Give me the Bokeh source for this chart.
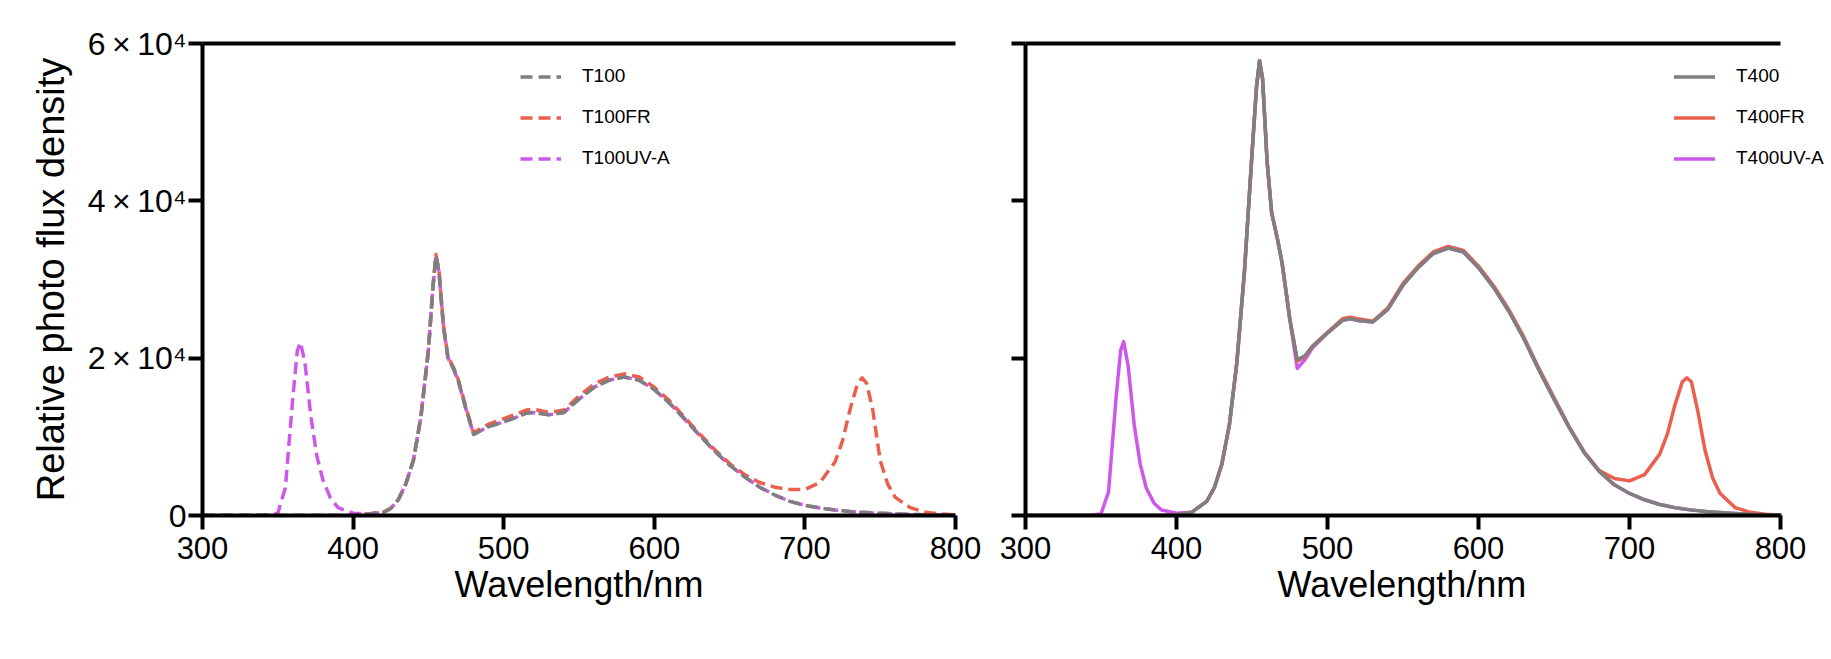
from bokeh.plotting import figure
from bokeh.models import (Range1d, FixedTicker, LinearAxis, Legend, LegendItem, Title,
                          CustomJSTickFormatter)
from bokeh.layouts import row
from bokeh.embed import file_html
from bokeh.resources import INLINE

# ---------------- data ----------------
wavelength = [300, 340, 350, 355, 360, 363, 365, 368, 372, 376,
              380, 385, 390, 400, 410, 420, 425, 430, 435, 440,
              445, 450, 453, 455, 457, 460, 463, 467, 470, 475,
              480, 485, 490, 500, 510, 515, 520, 530, 540, 550,
              560, 570, 580, 590, 600, 610, 620, 630, 640, 650,
              660, 670, 680, 690, 700, 710, 720, 725, 730, 735,
              738, 741, 745, 750, 755, 760, 770, 780, 790, 800]

t100 = [0, 0, 0, 0, 0, 0, 0, 0, 0, 0,
        0, 0, 0, 0, 200, 400, 900, 2000, 4000, 7000,
        12500, 21000, 29000, 33000, 31000, 24000, 20000, 18500, 17000, 13500,
        10300, 10800, 11300, 11900, 12600, 13000, 13100, 12800, 13100, 14800,
        16300, 17200, 17600, 17200, 16000, 14300, 12300, 10200, 8200, 6400,
        4900, 3600, 2600, 1800, 1300, 950, 700, 600, 500, 430,
        400, 370, 330, 280, 240, 200, 140, 90, 50, 20]

t100fr = [0, 0, 0, 0, 0, 0, 0, 0, 0, 0,
          0, 0, 0, 0, 200, 400, 900, 2000, 4000, 7000,
          12500, 21000, 29000, 33200, 31200, 24200, 20200, 18700, 17200, 13700,
          10500, 11100, 11600, 12300, 13000, 13400, 13500, 13100, 13400, 15200,
          16700, 17600, 18000, 17600, 16300, 14600, 12500, 10400, 8400, 6600,
          5200, 4200, 3600, 3300, 3300, 4200, 6800, 9500, 13500, 16800,
          17500, 16800, 13500, 7000, 4000, 2300, 1000, 400, 200, 100]

t100uva = [0, 0, 300, 3500, 15000, 21000, 22000, 19500, 12500, 7500,
           4500, 2200, 1000, 300, 200, 400, 900, 2000, 4000, 7000,
           12500, 21000, 29000, 33000, 31000, 24000, 20000, 18500, 17000, 13500,
           10300, 10800, 11300, 11900, 12600, 13000, 13100, 12800, 13100, 14800,
           16300, 17200, 17600, 17200, 16000, 14300, 12300, 10200, 8200, 6400,
           4900, 3600, 2600, 1800, 1300, 950, 700, 600, 500, 430,
           400, 370, 330, 280, 240, 200, 140, 90, 50, 20]

t400 = [0, 0, 0, 0, 0, 0, 0, 0, 0, 0,
        0, 0, 0, 100, 400, 1800, 3500, 6500, 11500, 19500,
        31000, 46000, 54500, 57800, 55500, 45000, 38500, 35000, 32000, 25000,
        19800, 20300, 21500, 23200, 24800, 25000, 24800, 24600, 26200, 29300,
        31500, 33300, 34000, 33500, 31500, 29000, 26000, 22500, 18500, 14800,
        11200, 8000, 5600, 3900, 2800, 2000, 1400, 1200, 1000, 850,
        780, 700, 620, 520, 440, 380, 260, 170, 100, 60]

t400fr = [0, 0, 0, 0, 0, 0, 0, 0, 0, 0,
          0, 0, 0, 100, 400, 1800, 3500, 6500, 11500, 19500,
          31000, 46000, 54500, 57800, 55500, 45000, 38500, 35000, 32000, 25000,
          19600, 20200, 21500, 23300, 25000, 25200, 25000, 24700, 26400, 29500,
          31700, 33500, 34200, 33700, 31700, 29200, 26200, 22700, 18700, 15000,
          11300, 8100, 5700, 4700, 4400, 5200, 7800, 10300, 14000, 17000,
          17500, 17000, 13500, 8300, 4800, 2800, 1000, 400, 150, 60]

t400uva = [0, 0, 200, 3000, 15000, 21000, 22100, 19000, 11500, 6500,
           3500, 1600, 700, 300, 400, 1800, 3500, 6500, 11500, 19500,
           31000, 46000, 54500, 57800, 55500, 45000, 38500, 35000, 32000, 25000,
           18700, 19800, 21300, 23200, 24800, 25000, 24800, 24600, 26200, 29300,
           31500, 33300, 34000, 33500, 31500, 29000, 26000, 22500, 18500, 14800,
           11200, 8000, 5600, 3900, 2800, 2000, 1400, 1200, 1000, 850,
           780, 700, 620, 520, 440, 380, 260, 170, 100, 60]

x_ticks = [300, 400, 500, 600, 700, 800]
y_ticks = [0, 20000, 40000, 60000]
y_tick_labels = ["0", "2\u2009×\u200910⁴", "4\u2009×\u200910⁴", "6\u2009×\u200910⁴"]
x_title = "Wavelength/nm"
y_title = "Relative photo flux density"
left_names = ["T100", "T100FR", "T100UV-A"]
right_names = ["T400", "T400FR", "T400UV-A"]

GRAY = "#7f7f7f"
RED = "#ea5f4e"
PURPLE = "#cd59ea"
FONT = "Liberation Sans"

FIG_H = 655
TOP = 43
FRAME_H = 472


def style(p, left_panel):
    for ax in (p.xaxis[0], p.yaxis[0]):
        ax.axis_line_width = 4
        ax.axis_line_color = "black"
        ax.major_tick_line_width = 4
        ax.major_tick_line_color = "black"
        ax.major_tick_out = 14
        ax.major_tick_in = 0
        ax.minor_tick_line_color = None
        ax.major_label_text_font = FONT
        ax.major_label_text_font_size = "31px"
        ax.major_label_text_color = "black"
        ax.axis_label_text_font = FONT
        ax.axis_label_text_font_style = "normal"
        ax.axis_label_text_font_size = "36px"
        ax.axis_label_text_color = "black"
    p.xaxis.ticker = FixedTicker(ticks=x_ticks)
    p.xaxis.bounds = (300, 800)
    p.yaxis.ticker = FixedTicker(ticks=y_ticks)
    p.xaxis.major_label_standoff = 7
    if left_panel:
        p.xaxis.axis_label = x_title
        p.xaxis.axis_label_standoff = 2
        p.yaxis.major_label_overrides = {t: l for t, l in zip(y_ticks, y_tick_labels)}
        p.yaxis.major_label_text_font_size = "32px"
        p.yaxis.major_label_standoff = 2
        p.yaxis.axis_label = y_title
        p.yaxis.axis_label_text_font_size = "38px"
        p.yaxis.axis_label_standoff = 13
    else:
        # ticks only, no labels on the right panel's y axis
        p.yaxis.formatter = CustomJSTickFormatter(code="return ''")
        p.yaxis.major_label_standoff = 0
    top = LinearAxis(axis_line_width=4, axis_line_color="black",
                     major_tick_line_color=None, minor_tick_line_color=None,
                     major_label_text_font_size="0px", major_label_standoff=0,
                     ticker=FixedTicker(ticks=[]), bounds=(300, 800))
    p.add_layout(top, "above")
    p.grid.visible = False
    p.outline_line_color = None
    p.background_fill_color = "white"
    p.border_fill_color = "white"


def make(width, left_border, right_border, x_end, left_panel):
    p = figure(width=width, height=FIG_H, output_backend="svg", toolbar_location=None,
               x_range=Range1d(300, x_end), y_range=Range1d(0, 60000),
               min_border_left=left_border, min_border_right=right_border,
               min_border_top=TOP, min_border_bottom=FIG_H - TOP - FRAME_H)
    style(p, left_panel)
    return p


# left panel: frame 202..955 ; right panel: frame starts at 1025, 300..800 spans 755 px,
# frame extended to the right so the legend texts are not cut
p1 = make(990, 202, 35, 800, True)
R_FRAME_W = 800
p2 = make(840, 35, 840 - 35 - R_FRAME_W, 300 + 500 * R_FRAME_W / 755, False)
# x title of the right panel, centred under the 300..800 span
p2.add_layout(Title(text=x_title, align="left", offset=252, standoff=0,
                    text_font=FONT, text_font_size="36px", text_font_style="normal",
                    text_color="black"), "below")


def add_lines(p, ys, names, dash, loc):
    colors = [GRAY, RED, PURPLE]
    renderers = {}
    # draw order: purple, red, gray (gray on top)
    for i in (2, 1, 0):
        r = p.line(wavelength, ys[i], line_color=colors[i], line_width=3.5,
                   line_dash=dash, line_join="round",
                   line_cap="butt" if dash != "solid" else "round")
        renderers[i] = r
    items = [LegendItem(label=names[i], renderers=[renderers[i]]) for i in range(3)]
    leg = Legend(items=items, location=loc, padding=0, margin=0,
                 glyph_width=41, glyph_height=21, label_height=21,
                 label_standoff=21, spacing=19,
                 label_text_font=FONT, label_text_font_size="19px",
                 label_text_color="black",
                 border_line_color=None, background_fill_alpha=0)
    p.add_layout(leg, "center")


add_lines(p1, [t100, t100fr, t100uva], left_names, "12 6", (318, 346))
add_lines(p2, [t400, t400fr, t400uva], right_names, "solid", (649, 346))

layout = row(p1, p2)
open("out.html", "w").write(file_html(layout, INLINE))
